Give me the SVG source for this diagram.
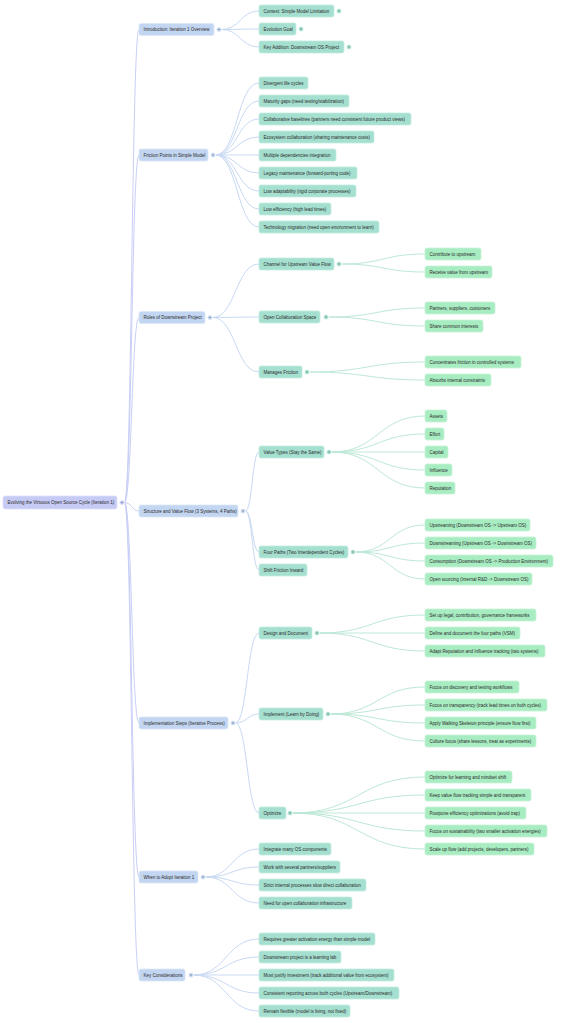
<svg xmlns="http://www.w3.org/2000/svg" width="564" height="1023" viewBox="0 0 564 1023">
<style>
text{font-family:"Liberation Sans",Arial,sans-serif;font-size:4.5px;fill:#2a2a2a}
.r0{fill:#c6cbf5;stroke:#dde1fa;stroke-width:0.8}
.r1{fill:#c3d6f1;stroke:#dbe6f8;stroke-width:0.8}
.r2{fill:#a5dfd0;stroke:#c3ece1;stroke-width:0.8}
.r3{fill:#a8ecc2;stroke:#c6f4d7;stroke-width:0.8}
.c0{fill:none;stroke:#c9cff6;stroke-width:1}
.c1{fill:none;stroke:#c8d9f3;stroke-width:1}
.c2{fill:none;stroke:#bde8d6;stroke-width:1}
.t0{fill:#c6cbf5;stroke:#fff;stroke-width:0.7}
.t1{fill:#c3d6f1;stroke:#fff;stroke-width:0.7}
.t2{fill:#a5dfd0;stroke:#fff;stroke-width:0.7}
.m{stroke:#555;stroke-width:0.5}
</style>
<rect width="564" height="1023" fill="#ffffff"/>
<g id="connectors">
<path class="c0" d="M124.5 502.5 C131.75 502.5 131.75 29.5 139 29.5"/>
<path class="c0" d="M124.5 502.5 C131.75 502.5 131.75 155 139 155"/>
<path class="c0" d="M124.5 502.5 C131.75 502.5 131.75 317.5 139 317.5"/>
<path class="c0" d="M124.5 502.5 C131.75 502.5 131.75 511 139 511"/>
<path class="c0" d="M124.5 502.5 C131.75 502.5 131.75 723 139 723"/>
<path class="c0" d="M124.5 502.5 C131.75 502.5 131.75 877 139 877"/>
<path class="c0" d="M124.5 502.5 C131.75 502.5 131.75 975 139 975"/>
<path class="c1" d="M221.5 29.5 C240.25 29.5 240.25 11 259 11"/>
<path class="c1" d="M221.5 29.5 C240.25 29.5 240.25 29 259 29"/>
<path class="c1" d="M221.5 29.5 C240.25 29.5 240.25 47 259 47"/>
<path class="c1" d="M215.5 155 C237.25 155 237.25 83 259 83"/>
<path class="c1" d="M215.5 155 C237.25 155 237.25 101 259 101"/>
<path class="c1" d="M215.5 155 C237.25 155 237.25 119 259 119"/>
<path class="c1" d="M215.5 155 C237.25 155 237.25 137 259 137"/>
<path class="c1" d="M215.5 155 C237.25 155 237.25 155 259 155"/>
<path class="c1" d="M215.5 155 C237.25 155 237.25 173 259 173"/>
<path class="c1" d="M215.5 155 C237.25 155 237.25 191 259 191"/>
<path class="c1" d="M215.5 155 C237.25 155 237.25 209 259 209"/>
<path class="c1" d="M215.5 155 C237.25 155 237.25 227 259 227"/>
<path class="c1" d="M212.5 317.5 C235.75 317.5 235.75 264 259 264"/>
<path class="c1" d="M212.5 317.5 C235.75 317.5 235.75 317 259 317"/>
<path class="c1" d="M212.5 317.5 C235.75 317.5 235.75 372 259 372"/>
<path class="c1" d="M245.5 511 C252.25 511 252.25 452 259 452"/>
<path class="c1" d="M245.5 511 C252.25 511 252.25 552 259 552"/>
<path class="c1" d="M245.5 511 C252.25 511 252.25 570 259 570"/>
<path class="c1" d="M235.5 723 C247.25 723 247.25 633 259 633"/>
<path class="c1" d="M235.5 723 C247.25 723 247.25 714 259 714"/>
<path class="c1" d="M235.5 723 C247.25 723 247.25 813 259 813"/>
<path class="c1" d="M205.5 877 C232.25 877 232.25 849 259 849"/>
<path class="c1" d="M205.5 877 C232.25 877 232.25 867 259 867"/>
<path class="c1" d="M205.5 877 C232.25 877 232.25 885 259 885"/>
<path class="c1" d="M205.5 877 C232.25 877 232.25 903 259 903"/>
<path class="c1" d="M193.5 975 C226.25 975 226.25 939 259 939"/>
<path class="c1" d="M193.5 975 C226.25 975 226.25 957 259 957"/>
<path class="c1" d="M193.5 975 C226.25 975 226.25 975 259 975"/>
<path class="c1" d="M193.5 975 C226.25 975 226.25 993 259 993"/>
<path class="c1" d="M193.5 975 C226.25 975 226.25 1011 259 1011"/>
<path class="c2" d="M341.5 264 C383.25 264 383.25 254 425 254"/>
<path class="c2" d="M341.5 264 C383.25 264 383.25 272 425 272"/>
<path class="c2" d="M328.5 317 C376.75 317 376.75 308 425 308"/>
<path class="c2" d="M328.5 317 C376.75 317 376.75 326 425 326"/>
<path class="c2" d="M309.5 372 C367.25 372 367.25 362 425 362"/>
<path class="c2" d="M309.5 372 C367.25 372 367.25 380 425 380"/>
<path class="c2" d="M331.5 452 C378.25 452 378.25 416 425 416"/>
<path class="c2" d="M331.5 452 C378.25 452 378.25 434 425 434"/>
<path class="c2" d="M331.5 452 C378.25 452 378.25 452 425 452"/>
<path class="c2" d="M331.5 452 C378.25 452 378.25 470 425 470"/>
<path class="c2" d="M331.5 452 C378.25 452 378.25 488 425 488"/>
<path class="c2" d="M355.5 552 C390.25 552 390.25 525 425 525"/>
<path class="c2" d="M355.5 552 C390.25 552 390.25 543 425 543"/>
<path class="c2" d="M355.5 552 C390.25 552 390.25 561 425 561"/>
<path class="c2" d="M355.5 552 C390.25 552 390.25 579 425 579"/>
<path class="c2" d="M319.5 633 C372.25 633 372.25 615 425 615"/>
<path class="c2" d="M319.5 633 C372.25 633 372.25 633 425 633"/>
<path class="c2" d="M319.5 633 C372.25 633 372.25 651 425 651"/>
<path class="c2" d="M330.5 714 C377.75 714 377.75 687 425 687"/>
<path class="c2" d="M330.5 714 C377.75 714 377.75 705 425 705"/>
<path class="c2" d="M330.5 714 C377.75 714 377.75 723 425 723"/>
<path class="c2" d="M330.5 714 C377.75 714 377.75 741 425 741"/>
<path class="c2" d="M292.5 813 C358.75 813 358.75 777 425 777"/>
<path class="c2" d="M292.5 813 C358.75 813 358.75 795 425 795"/>
<path class="c2" d="M292.5 813 C358.75 813 358.75 813 425 813"/>
<path class="c2" d="M292.5 813 C358.75 813 358.75 831 425 831"/>
<path class="c2" d="M292.5 813 C358.75 813 358.75 849 425 849"/>
</g>
<g id="root"><rect class="r0" x="3" y="496" width="114" height="13" rx="2"/><text x="7.5" y="504.1">Evolving the Virtuous Open Source Cycle (Iteration 1)</text><circle class="t0" cx="122" cy="502.5" r="2.6"/><line class="m" x1="121" y1="502.5" x2="123" y2="502.5"/></g>
<g id="n-intro"><rect class="r1" x="139" y="23.5" width="75" height="12" rx="2"/><text x="143.5" y="31.1">Introduction: Iteration 1 Overview</text><circle class="t1" cx="219" cy="29.5" r="2.6"/><line class="m" x1="218" y1="29.5" x2="220" y2="29.5"/></g>
<g id="n-friction"><rect class="r1" x="139" y="149" width="69" height="12" rx="2"/><text x="143.5" y="156.6">Friction Points in Simple Model</text><circle class="t1" cx="213" cy="155" r="2.6"/><line class="m" x1="212" y1="155" x2="214" y2="155"/></g>
<g id="n-roles"><rect class="r1" x="139" y="311.5" width="66" height="12" rx="2"/><text x="143.5" y="319.1">Roles of Downstream Project</text><circle class="t1" cx="210" cy="317.5" r="2.6"/><line class="m" x1="209" y1="317.5" x2="211" y2="317.5"/></g>
<g id="n-structure"><rect class="r1" x="139" y="505" width="99" height="12" rx="2"/><text x="143.5" y="512.6">Structure and Value Flow (3 Systems, 4 Paths)</text><circle class="t1" cx="243" cy="511" r="2.6"/><line class="m" x1="242" y1="511" x2="244" y2="511"/></g>
<g id="n-impl"><rect class="r1" x="139" y="717" width="89" height="12" rx="2"/><text x="143.5" y="724.6">Implementation Steps (Iterative Process)</text><circle class="t1" cx="233" cy="723" r="2.6"/><line class="m" x1="232" y1="723" x2="234" y2="723"/></g>
<g id="n-when"><rect class="r1" x="139" y="871" width="59" height="12" rx="2"/><text x="143.5" y="878.6">When to Adopt Iteration 1</text><circle class="t1" cx="203" cy="877" r="2.6"/><line class="m" x1="202" y1="877" x2="204" y2="877"/></g>
<g id="n-key"><rect class="r1" x="139" y="969" width="46" height="12" rx="2"/><text x="143.5" y="976.6">Key Considerations</text><circle class="t1" cx="191" cy="975" r="2.6"/><line class="m" x1="190" y1="975" x2="192" y2="975"/></g>
<g id="n-ctx"><rect class="r2" x="259" y="5" width="75" height="12" rx="2"/><text x="263.5" y="12.6">Context: Simple Model Limitation</text><circle class="t2" cx="339" cy="11" r="2.6"/><line class="m" x1="338" y1="11" x2="340" y2="11"/></g>
<g id="n-evo"><rect class="r2" x="259" y="23" width="37" height="12" rx="2"/><text x="263.5" y="30.6">Evolution Goal</text><circle class="t2" cx="301" cy="29" r="2.6"/><line class="m" x1="300" y1="29" x2="302" y2="29"/></g>
<g id="n-keyadd"><rect class="r2" x="259" y="41" width="85" height="12" rx="2"/><text x="263.5" y="48.6">Key Addition: Downstream OS Project</text><circle class="t2" cx="349" cy="47" r="2.6"/><line class="m" x1="348" y1="47" x2="350" y2="47"/></g>
<g id="n-f1"><rect class="r2" x="259" y="77" width="49" height="12" rx="2"/><text x="263.5" y="84.6">Divergent life cycles</text></g>
<g id="n-f2"><rect class="r2" x="259" y="95" width="90" height="12" rx="2"/><text x="263.5" y="102.6">Maturity gaps (need testing/stabilization)</text></g>
<g id="n-f3"><rect class="r2" x="259" y="113" width="152" height="12" rx="2"/><text x="263.5" y="120.6">Collaborative baselines (partners need consistent future product views)</text></g>
<g id="n-f4"><rect class="r2" x="259" y="131" width="115" height="12" rx="2"/><text x="263.5" y="138.6">Ecosystem collaboration (sharing maintenance costs)</text></g>
<g id="n-f5"><rect class="r2" x="259" y="149" width="77" height="12" rx="2"/><text x="263.5" y="156.6">Multiple dependencies integration</text></g>
<g id="n-f6"><rect class="r2" x="259" y="167" width="98" height="12" rx="2"/><text x="263.5" y="174.6">Legacy maintenance (forward-porting code)</text></g>
<g id="n-f7"><rect class="r2" x="259" y="185" width="97" height="12" rx="2"/><text x="263.5" y="192.6">Low adaptability (rigid corporate processes)</text></g>
<g id="n-f8"><rect class="r2" x="259" y="203" width="72" height="12" rx="2"/><text x="263.5" y="210.6">Low efficiency (high lead times)</text></g>
<g id="n-f9"><rect class="r2" x="259" y="221" width="120" height="12" rx="2"/><text x="263.5" y="228.6">Technology migration (need open environment to learn)</text></g>
<g id="n-channel"><rect class="r2" x="259" y="258" width="75" height="12" rx="2"/><text x="263.5" y="265.6">Channel for Upstream Value Flow</text><circle class="t2" cx="339" cy="264" r="2.6"/><line class="m" x1="338" y1="264" x2="340" y2="264"/></g>
<g id="n-opencollab"><rect class="r2" x="259" y="311" width="61" height="12" rx="2"/><text x="263.5" y="318.6">Open Collaboration Space</text><circle class="t2" cx="326" cy="317" r="2.6"/><line class="m" x1="325" y1="317" x2="327" y2="317"/></g>
<g id="n-manages"><rect class="r2" x="259" y="366" width="43" height="12" rx="2"/><text x="263.5" y="373.6">Manages Friction</text><circle class="t2" cx="307" cy="372" r="2.6"/><line class="m" x1="306" y1="372" x2="308" y2="372"/></g>
<g id="n-valuetypes"><rect class="r2" x="259" y="446" width="65" height="12" rx="2"/><text x="263.5" y="453.6">Value Types (Stay the Same)</text><circle class="t2" cx="329" cy="452" r="2.6"/><line class="m" x1="328" y1="452" x2="330" y2="452"/></g>
<g id="n-fourpaths"><rect class="r2" x="259" y="546" width="89" height="12" rx="2"/><text x="263.5" y="553.6">Four Paths (Two Interdependent Cycles)</text><circle class="t2" cx="353" cy="552" r="2.6"/><line class="m" x1="352" y1="552" x2="354" y2="552"/></g>
<g id="n-shift"><rect class="r2" x="259" y="564" width="48" height="12" rx="2"/><text x="263.5" y="571.6">Shift Friction Inward</text></g>
<g id="n-design"><rect class="r2" x="259" y="627" width="53" height="12" rx="2"/><text x="263.5" y="634.6">Design and Document</text><circle class="t2" cx="317" cy="633" r="2.6"/><line class="m" x1="316" y1="633" x2="318" y2="633"/></g>
<g id="n-implement"><rect class="r2" x="259" y="708" width="64" height="12" rx="2"/><text x="263.5" y="715.6">Implement (Learn by Doing)</text><circle class="t2" cx="328" cy="714" r="2.6"/><line class="m" x1="327" y1="714" x2="329" y2="714"/></g>
<g id="n-optimize"><rect class="r2" x="259" y="807" width="27" height="12" rx="2"/><text x="263.5" y="814.6">Optimize</text><circle class="t2" cx="290" cy="813" r="2.6"/><line class="m" x1="289" y1="813" x2="291" y2="813"/></g>
<g id="n-w1"><rect class="r2" x="259" y="843" width="72" height="12" rx="2"/><text x="263.5" y="850.6">Integrate many OS components</text></g>
<g id="n-w2"><rect class="r2" x="259" y="861" width="81" height="12" rx="2"/><text x="263.5" y="868.6">Work with several partners/suppliers</text></g>
<g id="n-w3"><rect class="r2" x="259" y="879" width="107" height="12" rx="2"/><text x="263.5" y="886.6">Strict internal processes slow direct collaboration</text></g>
<g id="n-w4"><rect class="r2" x="259" y="897" width="93" height="12" rx="2"/><text x="263.5" y="904.6">Need for open collaboration infrastructure</text></g>
<g id="n-k1"><rect class="r2" x="259" y="933" width="116" height="12" rx="2"/><text x="263.5" y="940.6">Requires greater activation energy than simple model</text></g>
<g id="n-k2"><rect class="r2" x="259" y="951" width="82" height="12" rx="2"/><text x="263.5" y="958.6">Downstream project is a learning lab</text></g>
<g id="n-k3"><rect class="r2" x="259" y="969" width="135" height="12" rx="2"/><text x="263.5" y="976.6">Must justify investment (track additional value from ecosystem)</text></g>
<g id="n-k4"><rect class="r2" x="259" y="987" width="140" height="12" rx="2"/><text x="263.5" y="994.6">Consistent reporting across both cycles (Upstream/Downstream)</text></g>
<g id="n-k5"><rect class="r2" x="259" y="1005" width="91" height="12" rx="2"/><text x="263.5" y="1012.6">Remain flexible (model is living, not fixed)</text></g>
<g id="n-contribute"><rect class="r3" x="425" y="248" width="56" height="12" rx="2"/><text x="429.5" y="255.6">Contribute to upstream</text></g>
<g id="n-receive"><rect class="r3" x="425" y="266" width="67" height="12" rx="2"/><text x="429.5" y="273.6">Receive value from upstream</text></g>
<g id="n-partners"><rect class="r3" x="425" y="302" width="70" height="12" rx="2"/><text x="429.5" y="309.6">Partners, suppliers, customers</text></g>
<g id="n-share"><rect class="r3" x="425" y="320" width="58" height="12" rx="2"/><text x="429.5" y="327.6">Share common interests</text></g>
<g id="n-concentrates"><rect class="r3" x="425" y="356" width="96" height="12" rx="2"/><text x="429.5" y="363.6">Concentrates friction in controlled systems</text></g>
<g id="n-absorbs"><rect class="r3" x="425" y="374" width="66" height="12" rx="2"/><text x="429.5" y="381.6">Absorbs internal constraints</text></g>
<g id="n-assets"><rect class="r3" x="425" y="410" width="22" height="12" rx="2"/><text x="429.5" y="417.6">Assets</text></g>
<g id="n-effort"><rect class="r3" x="425" y="428" width="19" height="12" rx="2"/><text x="429.5" y="435.6">Effort</text></g>
<g id="n-capital"><rect class="r3" x="425" y="446" width="23" height="12" rx="2"/><text x="429.5" y="453.6">Capital</text></g>
<g id="n-influence"><rect class="r3" x="425" y="464" width="27" height="12" rx="2"/><text x="429.5" y="471.6">Influence</text></g>
<g id="n-reputation"><rect class="r3" x="425" y="482" width="30" height="12" rx="2"/><text x="429.5" y="489.6">Reputation</text></g>
<g id="n-upstreaming"><rect class="r3" x="425" y="519" width="105" height="12" rx="2"/><text x="429.5" y="526.6">Upstreaming (Downstream OS -&gt; Upstream OS)</text></g>
<g id="n-downstreaming"><rect class="r3" x="425" y="537" width="111" height="12" rx="2"/><text x="429.5" y="544.6">Downstreaming (Upstream OS -&gt; Downstream OS)</text></g>
<g id="n-consumption"><rect class="r3" x="425" y="555" width="128" height="12" rx="2"/><text x="429.5" y="562.6">Consumption (Downstream OS -&gt; Production Environment)</text></g>
<g id="n-opensourcing"><rect class="r3" x="425" y="573" width="107" height="12" rx="2"/><text x="429.5" y="580.6">Open sourcing (Internal R&amp;D -&gt; Downstream OS)</text></g>
<g id="n-setup"><rect class="r3" x="425" y="609" width="111" height="12" rx="2"/><text x="429.5" y="616.6">Set up legal, contribution, governance frameworks</text></g>
<g id="n-define"><rect class="r3" x="425" y="627" width="95" height="12" rx="2"/><text x="429.5" y="634.6">Define and document the four paths (VSM)</text></g>
<g id="n-adapt"><rect class="r3" x="425" y="645" width="120" height="12" rx="2"/><text x="429.5" y="652.6">Adapt Reputation and Influence tracking (two systems)</text></g>
<g id="n-disc"><rect class="r3" x="425" y="681" width="94" height="12" rx="2"/><text x="429.5" y="688.6">Focus on discovery and testing workflows</text></g>
<g id="n-transp"><rect class="r3" x="425" y="699" width="122" height="12" rx="2"/><text x="429.5" y="706.6">Focus on transparency (track lead times on both cycles)</text></g>
<g id="n-walking"><rect class="r3" x="425" y="717" width="111" height="12" rx="2"/><text x="429.5" y="724.6">Apply Walking Skeleton principle (ensure flow first)</text></g>
<g id="n-culture"><rect class="r3" x="425" y="735" width="111" height="12" rx="2"/><text x="429.5" y="742.6">Culture focus (share lessons, treat as experiments)</text></g>
<g id="n-opt1"><rect class="r3" x="425" y="771" width="87" height="12" rx="2"/><text x="429.5" y="778.6">Optimize for learning and mindset shift</text></g>
<g id="n-opt2"><rect class="r3" x="425" y="789" width="106" height="12" rx="2"/><text x="429.5" y="796.6">Keep value flow tracking simple and transparent</text></g>
<g id="n-opt3"><rect class="r3" x="425" y="807" width="101" height="12" rx="2"/><text x="429.5" y="814.6">Postpone efficiency optimizations (avoid trap)</text></g>
<g id="n-opt4"><rect class="r3" x="425" y="825" width="122" height="12" rx="2"/><text x="429.5" y="832.6">Focus on sustainability (two smaller activation energies)</text></g>
<g id="n-opt5"><rect class="r3" x="425" y="843" width="109" height="12" rx="2"/><text x="429.5" y="850.6">Scale up flow (add projects, developers, partners)</text></g>
</svg>
